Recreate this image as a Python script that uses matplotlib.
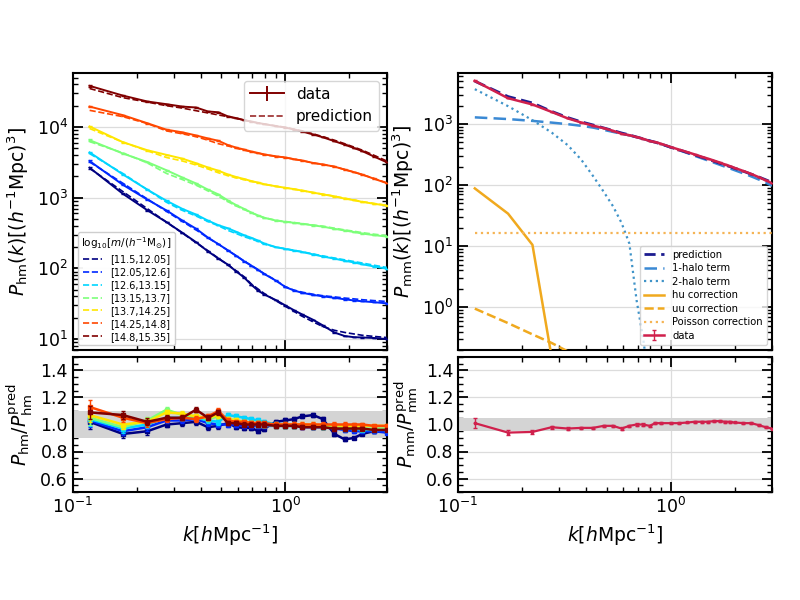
import numpy as np
import matplotlib
matplotlib.use("Agg")
import matplotlib.pyplot as plt
from matplotlib.ticker import LogLocator, MultipleLocator, NullFormatter

# ---------------- data: left (halo-matter) ----------------
k_left = [0.12, 0.172, 0.224, 0.276, 0.328, 0.38, 0.432, 0.484, 0.536, 0.588,
          0.64, 0.692, 0.744, 0.796, 0.9, 1.0, 1.1, 1.2, 1.35, 1.5,
          1.7, 1.9, 2.1, 2.3, 2.6, 3.0]

mass_bins = ["[11.5,12.05]", "[12.05,12.6]", "[12.6,13.15]", "[13.15,13.7]",
             "[13.7,14.25]", "[14.25,14.8]", "[14.8,15.35]"]

pred_bin0 = [2.6e3, 1.22e3, 7.0e2, 4.5e2, 3.15e2, 2.3e2, 1.78e2, 1.39e2, 1.12e2, 92,
             76, 60, 51, 44, 35, 29, 24.5, 21, 17.5, 15, 13.3, 12.4, 11.8, 11.3, 10.9, 10.5]
pred_bin1 = [3.2e3, 1.6e3, 9.6e2, 6.4e2, 4.6e2, 3.5e2, 2.7e2, 2.2e2, 1.8e2, 1.5e2,
             1.27e2, 1.1e2, 96, 84, 68, 55, 49, 46, 43, 41, 39.5, 38, 37, 36, 35, 34]
pred_bin2 = [4.2e3, 2.2e3, 1.3e3, 8.6e2, 6.6e2, 5.5e2, 4.6e2, 4.0e2, 3.45e2, 3.1e2,
             2.8e2, 2.6e2, 2.4e2, 2.2e2, 2.0e2, 1.9e2, 1.8e2, 1.72e2, 1.6e2, 1.5e2,
             1.4e2, 1.32e2, 1.25e2, 1.19e2, 1.11e2, 1.03e2]
pred_bin3 = [6.2e3, 4.3e3, 3.1e3, 2.2e3, 1.8e3, 1.5e3, 1.25e3, 1.05e3, 8.8e2, 7.6e2,
             6.8e2, 6.1e2, 5.6e2, 5.2e2, 4.8e2, 4.6e2, 4.45e2, 4.3e2, 4.1e2, 3.95e2,
             3.7e2, 3.5e2, 3.35e2, 3.2e2, 3.05e2, 2.9e2]
pred_bin4 = [9.5e3, 6.1e3, 4.6e3, 3.7e3, 3.3e3, 2.9e3, 2.55e3, 2.25e3, 2.05e3, 1.9e3,
             1.8e3, 1.7e3, 1.62e3, 1.55e3, 1.45e3, 1.38e3, 1.32e3, 1.26e3, 1.18e3, 1.12e3,
             1.05e3, 9.8e2, 9.3e2, 8.8e2, 8.3e2, 7.8e2]
pred_bin5 = [1.72e4, 1.4e4, 1.12e4, 8.8e3, 8.0e3, 7.3e3, 6.5e3, 5.8e3, 5.4e3, 5.0e3,
             4.7e3, 4.45e3, 4.25e3, 4.05e3, 3.85e3, 3.7e3, 3.5e3, 3.35e3, 3.1e3, 2.95e3,
             2.75e3, 2.5e3, 2.3e3, 2.12e3, 1.88e3, 1.62e3]
pred_bin6 = [3.5e4, 2.6e4, 2.25e4, 2.0e4, 1.85e4, 1.7e4, 1.58e4, 1.48e4, 1.4e4, 1.32e4,
             1.25e4, 1.19e4, 1.14e4, 1.1e4, 1.04e4, 9.9e3, 9.3e3, 8.8e3, 8.0e3, 7.3e3,
             6.5e3, 5.8e3, 5.2e3, 4.7e3, 4.0e3, 3.3e3]

ratio_bin0 = [1.02, 0.93, 0.95, 1.0, 1.01, 1.02, 0.98, 0.99, 1.01, 0.98,
              0.975, 0.975, 0.95, 0.97, 1.02, 1.03, 1.04, 1.06, 1.07, 1.04,
              0.93, 0.89, 0.9, 0.93, 0.95, 0.95]
ratio_bin1 = [1.03, 0.95, 0.98, 1.03, 1.03, 1.04, 1.01, 1.0, 1.0, 1.0,
              0.99, 0.99, 0.99, 0.99, 0.99, 0.99, 0.99, 0.98, 0.98, 0.98,
              0.97, 0.96, 0.95, 0.95, 0.95, 0.94]
ratio_bin2 = [1.04, 0.97, 1.0, 1.05, 1.05, 1.05, 1.03, 1.02, 1.07, 1.06,
              1.05, 1.04, 1.03, 1.02, 1.0, 0.99, 0.99, 0.99, 0.985, 0.98,
              0.98, 0.97, 0.97, 0.96, 0.96, 0.96]
ratio_bin3 = [1.05, 0.98, 1.03, 1.11, 1.07, 1.06, 1.04, 1.06, 1.04, 1.03,
              1.02, 1.01, 1.0, 1.0, 0.99, 0.99, 0.99, 0.99, 0.99, 0.985,
              0.98, 0.98, 0.975, 0.97, 0.97, 0.97]
ratio_bin4 = [1.07, 1.0, 1.02, 1.09, 1.08, 1.06, 1.05, 1.07, 1.04, 1.03,
              1.02, 1.01, 1.01, 1.0, 1.0, 1.0, 1.0, 1.0, 1.0, 0.995,
              0.995, 0.99, 0.99, 0.99, 0.99, 0.99]
ratio_bin5 = [1.13, 1.05, 1.01, 1.04, 1.05, 1.04, 1.06, 1.10, 1.03, 1.02,
              1.02, 1.01, 1.01, 1.01, 1.0, 1.0, 1.0, 1.0, 1.0, 1.0,
              1.0, 1.0, 1.0, 1.0, 0.99, 0.99]
ratio_bin6 = [1.09, 1.07, 1.02, 1.05, 1.05, 1.11, 1.05, 1.09, 1.01, 1.01,
              1.0, 1.0, 1.0, 1.0, 0.99, 0.99, 0.99, 0.98, 0.98, 0.98,
              0.97, 0.97, 0.97, 0.97, 0.96, 0.96]

err_left = [0.05, 0.03, 0.025, 0.02, 0.02, 0.02, 0.02, 0.02, 0.015, 0.015,
            0.015, 0.015, 0.015, 0.015, 0.015, 0.015, 0.015, 0.015, 0.015, 0.015,
            0.015, 0.015, 0.01, 0.01, 0.01, 0.01]

# ---------------- data: right (matter-matter) ----------------
k_right = [0.12, 0.172, 0.224, 0.276, 0.328, 0.38, 0.432, 0.484, 0.536, 0.588,
           0.64, 0.692, 0.744, 0.796, 0.848, 0.9, 1.0, 1.1, 1.2, 1.3,
           1.4, 1.5, 1.6, 1.7, 1.8, 1.9, 2.0, 2.2, 2.4, 2.6, 2.8, 3.0]
pred_mm = [5.0e3, 2.8e3, 2.2e3, 1.6e3, 1.27e3, 1.08e3, 9.6e2, 8.6e2, 7.8e2, 7.1e2,
           6.6e2, 6.1e2, 5.7e2, 5.3e2, 5.0e2, 4.7e2, 4.15e2, 3.75e2, 3.4e2, 3.1e2,
           2.85e2, 2.65e2, 2.45e2, 2.28e2, 2.13e2, 2.0e2, 1.88e2, 1.68e2, 1.5e2, 1.35e2,
           1.22e2, 1.1e2]
one_halo = [1.28e3, 1.2e3, 1.12e3, 1.05e3, 9.9e2, 9.3e2, 8.7e2, 8.0e2, 7.4e2, 6.9e2,
            6.5e2, 6.05e2, 5.65e2, 5.3e2, 5.0e2, 4.7e2, 4.15e2, 3.7e2, 3.33e2, 3.0e2,
            2.74e2, 2.52e2, 2.32e2, 2.15e2, 2.0e2, 1.87e2, 1.75e2, 1.55e2, 1.38e2, 1.23e2,
            1.1e2, 0.97e2]
two_halo = [3.7e3, 1.95e3, 1.15e3, 7.2e2, 4.5e2, 2.6e2, 1.4e2, 78, 45, 24,
            11, 1.3, 0.3, 0.05]
hu_corr = [88, 34, 10.5, 0.15]
uu_corr = [0.95, 0.55, 0.36, 0.26, 0.19]
poisson_level = 16.5
ratio_mm = [1.01, 0.94, 0.945, 0.98, 0.97, 0.975, 0.975, 0.99, 0.99, 0.97,
            0.99, 1.0, 1.0, 0.99, 1.01, 1.01, 1.01, 1.01, 1.015, 1.02,
            1.02, 1.02, 1.025, 1.025, 1.02, 1.02, 1.015, 1.01, 1.01, 0.995,
            0.98, 0.97]
err_mm = [0.035, 0.02, 0.015, 0.012, 0.01, 0.01, 0.008, 0.008, 0.008, 0.008,
          0.008, 0.008, 0.008, 0.008, 0.006, 0.006, 0.006, 0.006, 0.006, 0.006,
          0.006, 0.006, 0.006, 0.006, 0.006, 0.006, 0.006, 0.006, 0.006, 0.006,
          0.006, 0.006]

preds = [pred_bin0, pred_bin1, pred_bin2, pred_bin3, pred_bin4, pred_bin5, pred_bin6]
ratios = [ratio_bin0, ratio_bin1, ratio_bin2, ratio_bin3, ratio_bin4, ratio_bin5, ratio_bin6]

plt.rcParams['font.family'] = ['DejaVu Sans']
plt.rcParams['mathtext.fontset'] = 'dejavusans'

fig = plt.figure(figsize=(8, 6), dpi=100)
axL = fig.add_axes([0.091, 0.4167, 0.3925, 0.4616])
axLr = fig.add_axes([0.091, 0.18, 0.3925, 0.225])
axR = fig.add_axes([0.5725, 0.4167, 0.3925, 0.4616])
axRr = fig.add_axes([0.5725, 0.18, 0.3925, 0.225])

grid_kw = dict(color='#dcdcdc', lw=0.9, zorder=0)

def style(ax, logy):
    ax.set_xscale('log')
    ax.set_xlim(0.1, 3.0)
    if logy:
        ax.set_yscale('log')
        ax.yaxis.set_major_locator(LogLocator(base=10, numticks=12))
        ax.yaxis.set_minor_locator(LogLocator(base=10, subs=np.arange(2, 10), numticks=12))
        ax.yaxis.set_minor_formatter(NullFormatter())
    else:
        ax.set_ylim(0.5, 1.5)
        ax.yaxis.set_major_locator(MultipleLocator(0.2))
        ax.yaxis.set_minor_locator(MultipleLocator(0.05))
    ax.xaxis.set_minor_formatter(NullFormatter())
    ax.tick_params(which='both', direction='in', top=True, right=True, labelsize=12.5)
    ax.tick_params(which='major', length=7, width=1.3)
    ax.tick_params(which='minor', length=3.5, width=1.0)
    for s in ax.spines.values():
        s.set_linewidth(1.5)
    ax.grid(True, which='major', **grid_kw)
    ax.set_axisbelow(True)

for ax in (axL, axR):
    style(ax, True)
    ax.tick_params(labelbottom=False)
for ax in (axLr, axRr):
    style(ax, False)

cmap = plt.get_cmap('jet')
colors = [cmap(i / 6) for i in range(7)]

k_l = np.array(k_left)
err_l = np.array(err_left)
bin_handles = []
for i in range(7):
    p = np.array(preds[i])
    r = np.array(ratios[i])
    d = p * r
    axL.errorbar(k_l, d, yerr=d * err_l * 0.5, color=colors[i], lw=1.4, elinewidth=1.0,
                 capsize=1.5, zorder=3)
    h, = axL.plot(k_l, p, ls='--', color=colors[i], lw=1.2, zorder=4)
    bin_handles.append(h)
    axLr.errorbar(k_l, r, yerr=err_l, color=colors[i], lw=1.8, marker='s', ms=2.2,
                  elinewidth=1.0, capsize=1.5, zorder=3 + i * 0.1)

axL.set_ylim(7, 5.8e4)
axL.set_ylabel(r'$P_{\rm hm}(k)[(h^{-1}{\rm Mpc})^3]$', fontsize=13.5)
h_data = axL.errorbar([], [], yerr=[], color=colors[6], lw=1.4, capsize=0)
h_pred, = axL.plot([], [], ls='--', color='#9b2a2a', lw=1.2)
leg1 = axL.legend([h_data, h_pred], ['data', 'prediction'], loc='upper right',
                  fontsize=11, handlelength=2.2, borderpad=0.4)
axL.add_artist(leg1)
axL.legend(bin_handles, mass_bins, loc='lower left', fontsize=7,
           title=r'log$_{10}[m/(h^{-1}{\rm M}_{\odot})]$', title_fontsize=7.5,
           handlelength=2.0, labelspacing=0.3, borderpad=0.35, framealpha=0.95)

axLr.axhspan(0.9, 1.1, color='#d4d4d4', zorder=1, lw=0)
axLr.set_ylabel(r'$P_{\rm hm}/P_{\rm hm}^{\rm pred}$', fontsize=13.5)
axLr.set_xlabel(r'$k[h{\rm Mpc}^{-1}]$', fontsize=13.5)

# right panel
k_r = np.array(k_right)
pm = np.array(pred_mm)
data_mm = pm * np.array(ratio_mm)
h1, = axR.plot(k_r, pm, ls='--', color='#1c1c8f', lw=2.0, dashes=(4, 2), zorder=4)
h2, = axR.plot(k_r, one_halo, ls='--', color='#3a89d4', lw=1.8, dashes=(5, 2.5), zorder=3)
h3, = axR.plot(k_r[:len(two_halo)], two_halo, ls=':', color='#3f93c8', lw=1.6, zorder=3)
h4, = axR.plot(k_r[:len(hu_corr)], hu_corr, ls='-', color='#f0a91e', lw=1.8, zorder=3)
h5, = axR.plot(k_r[:len(uu_corr)], uu_corr, ls='--', color='#f0a91e', lw=1.8, zorder=3)
h6, = axR.plot([k_r[0], k_r[-1]], [poisson_level, poisson_level], ls=':', color='#f5b455',
               lw=1.6, zorder=3)
h7 = axR.errorbar(k_r, data_mm, yerr=data_mm * np.array(err_mm) * 0.5, color='#d0204c',
                  lw=1.8, elinewidth=1.0, capsize=1.5, zorder=5)
axR.set_ylim(0.2, 6.8e3)
axR.set_ylabel(r'$P_{\rm mm}(k)[(h^{-1}{\rm Mpc})^3]$', fontsize=13.5)
axR.legend([h1, h2, h3, h4, h5, h6, h7],
           ['prediction', '1-halo term', '2-halo term', 'hu correction', 'uu correction',
            'Poisson correction', 'data'], loc='lower right', fontsize=7.2,
           handlelength=2.0, labelspacing=0.35, borderpad=0.4)

axRr.axhspan(0.95, 1.05, color='#d4d4d4', zorder=1, lw=0)
axRr.errorbar(k_r, ratio_mm, yerr=err_mm, color='#d0204c', lw=1.6, marker='s', ms=2.0,
              elinewidth=1.0, capsize=1.5, zorder=3)
axRr.set_ylabel(r'$P_{\rm mm}/P_{\rm mm}^{\rm pred}$', fontsize=13.5)
axRr.set_xlabel(r'$k[h{\rm Mpc}^{-1}]$', fontsize=13.5)

fig.savefig('out.png', dpi=100)
